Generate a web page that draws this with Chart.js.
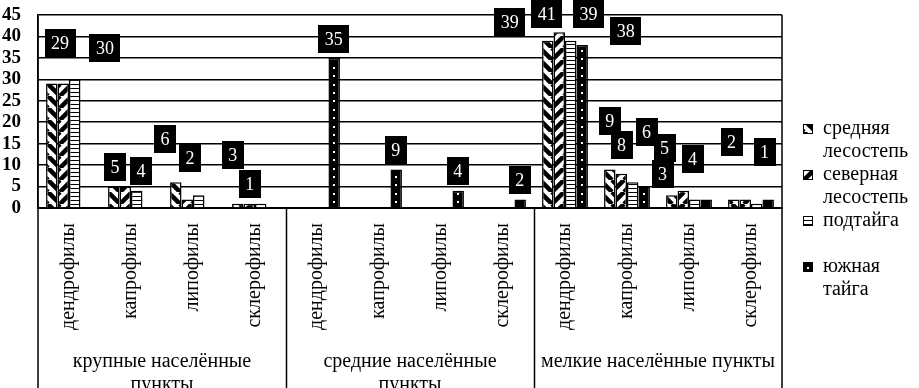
<!DOCTYPE html>
<html>
<head>
<meta charset="utf-8">
<script src="https://cdn.jsdelivr.net/npm/chart.js@4.4.0/dist/chart.umd.min.js"></script>
<style>
  html, body { margin: 0; padding: 0; background: #fff; }
  canvas { display: block; }
</style>
</head>
<body>
<canvas id="chart" width="919" height="388"></canvas>
<script>
'use strict';

// categories (3 groups of 4)
var categories = [
    'дендрофилы', 'капрофилы', 'липофилы', 'склерофилы',
    'дендрофилы', 'капрофилы', 'липофилы', 'склерофилы',
    'дендрофилы', 'капрофилы', 'липофилы', 'склерофилы'
];
var groupNames = [
    ['крупные населённые', 'пункты'],
    ['средние населённые', 'пункты'],
    ['мелкие населённые пункты']
];
var seriesNames = [
    ['средняя', 'лесостепь'],
    ['северная', 'лесостепь'],
    ['подтайга'],
    ['южная', 'тайга']
];

// series values
var srednyaya = [29, 5, 6, 1, 0, 0, 0, 0, 39, 9, 3, 2];
var severnaya = [29, 5, 2, 1, 0, 0, 0, 0, 41, 8, 4, 2];
var podtaiga  = [30, 4, 3, 1, 0, 0, 0, 0, 39, 6, 2, 1];
var yuzhnaya  = [0, 0, 0, 0, 35, 9, 4, 2, 38, 5, 2, 2];

var yMin = 0, yMax = 45, yStep = 5;

// value label boxes: [category, series, x (category units), y (value units)]
var labelSpots = [
    [0, 0, -0.145, 38.5], [0, 2, 0.58, 37.3],
    [1, 0, 0.741, 9.56], [1, 2, 1.16, 8.63],
    [2, 0, 1.547, 16.09], [2, 1, 1.95, 11.66], [2, 2, 2.643, 12.36],
    [3, 2, 2.917, 5.6],
    [4, 3, 4.271, 39.4], [5, 3, 5.27, 13.52], [6, 3, 6.27, 8.63], [7, 3, 7.269, 6.53],
    [8, 0, 7.108, 43.37], [8, 1, 7.704, 45.2], [8, 2, 8.381, 45.2], [8, 3, 8.978, 41.27],
    [9, 0, 8.72, 20.28], [9, 1, 8.913, 14.69], [9, 2, 9.316, 17.72], [9, 3, 9.606, 13.99],
    [10, 0, 9.574, 7.93], [10, 1, 10.058, 11.42],
    [11, 0, 10.686, 15.39], [11, 2, 11.218, 13.06]
];

var SERIF = "'Liberation Serif', 'Times New Roman', serif";

var ctx = document.getElementById('chart').getContext('2d');

function diagPattern(dir) {
    var c = document.createElement('canvas');
    c.width = 12; c.height = 12;
    var g = c.getContext('2d');
    g.fillStyle = '#fff';
    g.fillRect(0, 0, 12, 12);
    g.strokeStyle = '#000';
    g.lineWidth = 4.5;
    g.beginPath();
    [-12, 0, 12].forEach(function (o) {
        if (dir > 0) { g.moveTo(o, 0); g.lineTo(o + 12, 12); }
        else { g.moveTo(o, 12); g.lineTo(o + 12, 0); }
    });
    g.stroke();
    return ctx.createPattern(c, 'repeat');
}

function hStripePattern() {
    var c = document.createElement('canvas');
    c.width = 4; c.height = 4;
    var g = c.getContext('2d');
    g.fillStyle = '#fff';
    g.fillRect(0, 0, 4, 4);
    g.fillStyle = '#000';
    g.fillRect(0, 0, 4, 1);
    return ctx.createPattern(c, 'repeat');
}

var fills = [diagPattern(1), diagPattern(-1), hStripePattern(), '#000'];
var seriesData = [srednyaya, severnaya, podtaiga, yuzhnaya];

var extras = {
    id: 'extras',
    afterDatasetsDraw: function (chart) {
        // white dots in the black bars
        var c = chart.ctx;
        c.save();
        c.fillStyle = '#fff';
        chart.getDatasetMeta(3).data.forEach(function (bar) {
            var p = bar.getProps(['x', 'y', 'base'], true);
            for (var yy = p.base - 5; yy > p.y + 3; yy -= 8.4) {
                c.fillRect(Math.round(p.x) - 1, Math.round(yy) - 1, 2, 2);
            }
        });
        c.restore();
    },
    afterDraw: function (chart) {
        var c = chart.ctx;
        var area = chart.chartArea;
        var xs = chart.scales.x, ys = chart.scales.y;
        var H = chart.height;
        c.save();

        // frame and group separators
        c.strokeStyle = '#000';
        c.lineWidth = 1.5;
        c.beginPath();
        c.moveTo(area.left, area.top); c.lineTo(area.left, H);
        c.moveTo(area.right, area.top); c.lineTo(area.right, H);
        [3.5, 7.5].forEach(function (v) {
            var px = Math.round(xs.getPixelForValue(v)) + 0.5;
            c.moveTo(px, area.bottom); c.lineTo(px, H);
        });
        c.stroke();

        // group labels
        c.fillStyle = '#000';
        c.font = '20px ' + SERIF;
        c.textAlign = 'center';
        c.textBaseline = 'middle';
        groupNames.forEach(function (lines, g) {
            var cx = xs.getPixelForValue(g * 4 + 1.5);
            lines.forEach(function (t, i) {
                c.fillText(t, cx, 362 + i * 23);
            });
        });

        // value labels
        c.font = '18px ' + SERIF;
        labelSpots.forEach(function (s) {
            var txt = String(seriesData[s[1]][s[0]]);
            var px = xs.getPixelForValue(s[2]);
            var py = ys.getPixelForValue(s[3]);
            var w = c.measureText(txt).width + 13;
            var h = 28;
            c.fillStyle = '#000';
            c.fillRect(Math.round(px - w / 2), Math.round(py - h / 2), Math.round(w), h);
            c.fillStyle = '#fff';
            c.fillText(txt, px, py + 1);
        });

        // legend
        var lx = 803, ly = 129;
        c.textAlign = 'left';
        c.font = '20px ' + SERIF;
        chart.data.datasets.forEach(function (ds, i) {
            var y0 = ly + i * 46;
            c.fillStyle = ds.backgroundColor;
            c.fillRect(lx, y0 - 5, 10, 10);
            c.strokeStyle = '#000';
            c.lineWidth = 1;
            c.strokeRect(lx + 0.5, y0 - 4.5, 9, 9);
            if (i === 3) {
                c.fillStyle = '#fff';
                c.fillRect(lx + 4, y0, 2, 2);
            }
            c.fillStyle = '#000';
            seriesNames[i].forEach(function (t, k) {
                c.fillText(t, 823, y0 + k * 23);
            });
        });
        c.restore();
    }
};

new Chart(ctx, {
    type: 'bar',
    data: {
        labels: categories,
        datasets: seriesData.map(function (d, i) {
            return {
                label: seriesNames[i].join(' '),
                data: d,
                backgroundColor: fills[i],
                borderColor: '#000',
                borderWidth: 1.5,
                categoryPercentage: 0.74,
                barPercentage: 1.0
            };
        })
    },
    options: {
        responsive: false,
        animation: false,
        devicePixelRatio: 1,
        layout: { padding: { top: 15, right: 137, left: 0, bottom: 0 } },
        plugins: {
            legend: { display: false },
            tooltip: { enabled: false }
        },
        scales: {
            x: {
                grid: { display: false },
                border: { display: true, color: '#000', width: 2 },
                ticks: {
                    autoSkip: false,
                    minRotation: 90,
                    maxRotation: 90,
                    padding: 7,
                    color: '#000',
                    font: { family: SERIF, size: 20 }
                },
                afterFit: function (scale) { scale.height = 180; }
            },
            y: {
                min: yMin,
                max: yMax,
                grid: { color: '#000', lineWidth: 1.5, drawTicks: false },
                border: { display: true, color: '#000', width: 1.5 },
                ticks: {
                    autoSkip: false,
                    stepSize: yStep,
                    padding: 17,
                    color: '#000',
                    font: { family: SERIF, size: 19, weight: 'bold' }
                },
                afterFit: function (scale) {
                    scale.width = 38;
                    scale.paddingTop = 0;
                    scale.paddingBottom = 0;
                }
            }
        }
    },
    plugins: [extras]
});
</script>
</body>
</html>
